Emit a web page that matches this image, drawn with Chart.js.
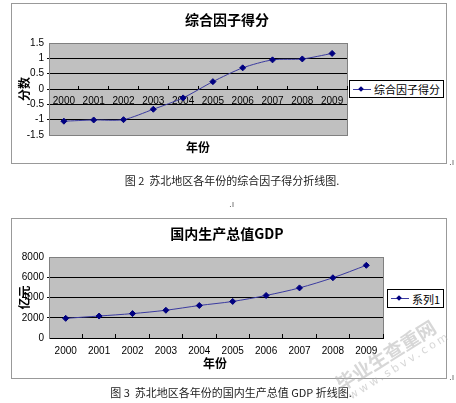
<!DOCTYPE html>
<html lang="zh-CN">
<head>
<meta charset="UTF-8">
<title>苏北地区综合因子得分与GDP</title>
<style>
    body {
        margin: 0;
        background: #fff;
        font-family: 'Liberation Sans', 'Noto Sans CJK SC', sans-serif;
        width: 456px;
        height: 403px;
        position: relative;
        overflow: hidden;
    }
    .box {
        position: absolute;
        border: 1px solid #999;
        box-sizing: border-box;
    }
    .wrap {
        position: absolute;
    }
    .title {
        position: absolute;
        font: bold 14px 'Noto Sans CJK SC', sans-serif;
        color: #000;
        white-space: nowrap;
        transform: translate(-50%, -50%);
    }
    .xtitle {
        position: absolute;
        font: bold 12px 'Noto Sans CJK SC', sans-serif;
        color: #000;
        transform: translate(-50%, -50%);
    }
    .legend {
        position: absolute;
        border: 1px solid #000;
        background: #fff;
        box-sizing: border-box;
        font: 11px 'Noto Sans CJK SC', sans-serif;
        color: #000;
        display: flex;
        align-items: center;
        white-space: nowrap;
    }
    .legend .sym {
        position: relative;
        width: 18px;
        height: 1px;
        background: #3b3ba0;
        margin: 0 3px 0 3px;
    }
    .legend .sym::after {
        content: '';
        position: absolute;
        left: 6px;
        top: -2px;
        width: 4px;
        height: 4px;
        background: #000080;
        transform: rotate(45deg);
    }
    .caption {
        position: absolute;
        font: 11px 'Noto Sans CJK SC', sans-serif;
        color: #222;
        white-space: nowrap;
        transform: translate(-50%, -50%);
    }
    .mark {
        position: absolute;
        font: 9px 'DejaVu Sans', sans-serif;
        color: #666;
    }
    .wm {
        position: absolute;
        color: rgba(175, 175, 175, 0.5);
        white-space: nowrap;
        transform: rotate(-32deg);
        transform-origin: 0 50%;
    }
</style>
</head>
<body>

<div class="box" style="left:11px; top:3px; width:436px; height:161px;"></div>
<div class="wrap" style="left:11px; top:3px; width:435px; height:161px;"><canvas id="scoreChart"></canvas></div>
<div class="title" style="left:227px; top:19px;">综合因子得分</div>
<div class="xtitle" style="left:198px; top:146px;">年份</div>
<div class="legend" style="left:349px; top:80px; width:95px; height:18px;"><span class="sym"></span>综合因子得分</div>
<div class="mark" style="left:449px; top:157px;">.ı</div>
<div class="caption" style="left:232px; top:180px;">图 2&nbsp; 苏北地区各年份的综合因子得分折线图.</div>

<div class="mark" style="left:229px; top:199px;">.ı</div>
<div class="box" style="left:11px; top:218px; width:436px; height:161px;"></div>
<div class="wrap" style="left:11px; top:218px; width:435px; height:161px;"><canvas id="gdpChart"></canvas></div>
<div class="title" style="left:227px; top:233px;">国内生产总值GDP</div>
<div class="xtitle" style="left:215px; top:362px;">年份</div>
<div class="legend" style="left:387px; top:289px; width:57px; height:19px;"><span class="sym"></span>系列1</div>
<div class="mark" style="left:449px; top:372px;">.ı</div>
<div class="caption" style="left:231px; top:392px;">图 3&nbsp; 苏北地区各年份的国内生产总值 GDP 折线图.</div>

<div class="wm" style="left:337px; top:375px; line-height:20px; font: bold 19px/20px 'Noto Sans CJK SC', sans-serif;">毕业生查重网</div>
<div class="wm" style="left:350px; top:391px; font: 11px/12px 'DejaVu Sans', sans-serif; letter-spacing:3px;">www.sbvv.com</div>

<script src="https://cdn.jsdelivr.net/npm/chart.js@4.4.0/dist/chart.umd.min.js"></script>
<script>
const years = ['2000', '2001', '2002', '2003', '2004', '2005', '2006', '2007', '2008', '2009'];
const scoreValues = [-1.05, -1.01, -1.0, -0.66, -0.29, 0.24, 0.69, 0.95, 0.98, 1.16];
const gdpValues = [1940, 2170, 2410, 2740, 3210, 3610, 4200, 4950, 5950, 7180];
const scoreTicks = [-1.5, -1, -0.5, 0, 0.5, 1, 1.5];
const gdpTicks = [0, 2000, 4000, 6000, 8000];

const lineColor = '#3b3ba0';
const markerColor = '#000080';
const tickFont = { family: "'Liberation Sans', sans-serif", size: 10 };

// grey plot area with darker frame, like the old Excel look
const plotBg = {
    id: 'plotBg',
    beforeDraw(chart) {
        const a = chart.chartArea;
        const ctx = chart.ctx;
        ctx.save();
        ctx.fillStyle = '#c0c0c0';
        ctx.fillRect(a.left, a.top, a.right - a.left, a.bottom - a.top);
        ctx.strokeStyle = '#808080';
        ctx.lineWidth = 1;
        ctx.strokeRect(a.left + 0.5, a.top + 0.5, a.right - a.left, a.bottom - a.top);
        ctx.restore();
    }
};

function innerGrid(ticks) {
    return c => {
        const v = c.tick ? c.tick.value : null;
        return (v !== null && v > ticks[0] && v < ticks[ticks.length - 1]) ? '#000' : 'rgba(0,0,0,0)';
    };
}

function makeDataset(label, data, tension) {
    return {
        label: label,
        data: data,
        borderColor: lineColor,
        borderWidth: 1,
        backgroundColor: markerColor,
        pointStyle: 'rectRot',
        pointRadius: 3,
        pointBorderColor: markerColor,
        pointBackgroundColor: markerColor,
        tension: tension,
        fill: false
    };
}

Chart.defaults.animation = false;
Chart.defaults.devicePixelRatio = 1;

new Chart(document.getElementById('scoreChart'), {
    type: 'line',
    data: { labels: years, datasets: [makeDataset('综合因子得分', scoreValues, 0.25)] },
    options: {
        responsive: true,
        maintainAspectRatio: false,
        layout: { padding: { left: 0, top: 40, right: 99, bottom: 29 } },
        plugins: { legend: { display: false }, tooltip: { enabled: false } },
        scales: {
            x: {
                type: 'category',
                position: { y: 0 },
                offset: true,
                grid: { drawOnChartArea: false, offset: true, tickLength: -4, color: '#000' },
                border: { color: '#000' },
                ticks: { font: tickFont, color: '#000', padding: 10, maxRotation: 0, autoSkip: false }
            },
            y: {
                min: -1.5,
                max: 1.5,
                afterBuildTicks: s => { s.ticks = scoreTicks.map(v => ({ value: v })); },
                afterFit: s => { s.width = 38; },
                ticks: { font: tickFont, color: '#000', padding: 3, callback: v => String(v) },
                grid: { color: innerGrid(scoreTicks), tickLength: 2 },
                border: { color: '#808080' },
                title: { display: true, text: '分数', color: '#000', padding: { top: 6, bottom: 0 },
                         font: { family: "'Noto Sans CJK SC', sans-serif", size: 12, weight: 'bold' } }
            }
        }
    },
    plugins: [plotBg]
});

new Chart(document.getElementById('gdpChart'), {
    type: 'line',
    data: { labels: years, datasets: [makeDataset('系列1', gdpValues, 0.3)] },
    options: {
        responsive: true,
        maintainAspectRatio: false,
        layout: { padding: { left: 0, top: 39, right: 63, bottom: 0 } },
        plugins: { legend: { display: false }, tooltip: { enabled: false } },
        scales: {
            x: {
                type: 'category',
                offset: true,
                afterFit: s => { s.height = 41; },
                grid: { drawOnChartArea: false, offset: true, tickLength: -4, color: '#000' },
                border: { color: '#000' },
                ticks: { font: tickFont, color: '#000', padding: 11, maxRotation: 0, autoSkip: false }
            },
            y: {
                min: 0,
                max: 8000,
                afterBuildTicks: s => { s.ticks = gdpTicks.map(v => ({ value: v })); },
                afterFit: s => { s.width = 38; },
                ticks: { font: tickFont, color: '#000', padding: 3, callback: v => String(v) },
                grid: { color: innerGrid(gdpTicks), tickLength: 2 },
                border: { color: '#808080' },
                title: { display: true, text: '亿元', color: '#000', padding: { top: 6, bottom: 0 },
                         font: { family: "'Noto Sans CJK SC', sans-serif", size: 12, weight: 'bold' } }
            }
        }
    },
    plugins: [plotBg]
});
</script>
</body>
</html>
